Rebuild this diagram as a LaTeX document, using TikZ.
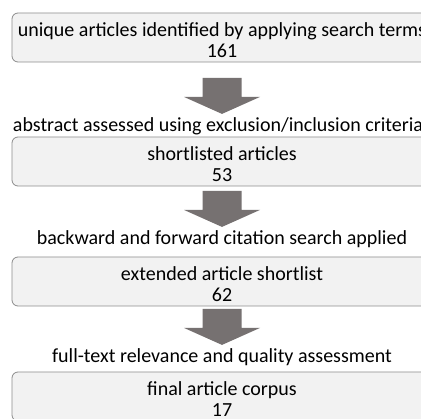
\documentclass[tikz,border=0pt]{standalone}
\usepackage{fontspec}
\setmainfont{Carlito}
\usetikzlibrary{calc}

\definecolor{boxfill}{RGB}{242,242,242}
\definecolor{boxline}{RGB}{140,140,140}
\definecolor{arrowgray}{RGB}{118,113,113}

\newcommand{\topstrut}{\rule{0pt}{20pt}}

\tikzset{
  stagebox/.style={draw=boxline, fill=boxfill, line width=0.8pt, rounded corners=6pt,
    minimum width=420pt, minimum height=49pt, inner sep=0pt, align=center,
    font=\fontsize{20}{21}\selectfont},
  steplabel/.style={anchor=base, inner sep=0pt, font=\fontsize{20}{21}\selectfont},
  blockarrow/.style={fill=arrowgray}
}

\begin{document}
\begin{tikzpicture}[x=1pt,y=-1pt]
    \useasboundingbox (0,0) rectangle (421,419);
    \clip (0,0) rectangle (421,419);
    \fill[white] (0,0) rectangle (421,419);

    % boxes
    \node[stagebox] (b1) at (222,37.5) {\topstrut unique articles identified by applying search terms\\161};
    \node[stagebox] (b2) at (222,161.5) {\topstrut shortlisted articles\\53};
    \node[stagebox] (b3) at (222,281.5) {\topstrut extended article shortlist\\62};
    \node[stagebox] (b4) at (222,396.5) {\topstrut final article corpus\\17};

    % step labels
    \node[steplabel] (l1) at (218,132) {abstract assessed using exclusion/inclusion criteria};
    \node[steplabel] (l2) at (222,245) {backward and forward citation search applied};
    \node[steplabel] (l3) at (222,363) {full-text relevance and quality assessment};

    % block arrows, tip just above each label
    \foreach \lab in {l1,l2,l3} {
        \coordinate (tip) at ($(\lab.north -| b1.south)+(0,-4)$);
        \fill[blockarrow] (tip) -- ++(38,-17) -- ++(-18.5,0) -- ++(0,-19) -- ++(-39,0)
            -- ++(0,19) -- ++(-18.5,0) -- cycle;
    }
\end{tikzpicture}
\end{document}
